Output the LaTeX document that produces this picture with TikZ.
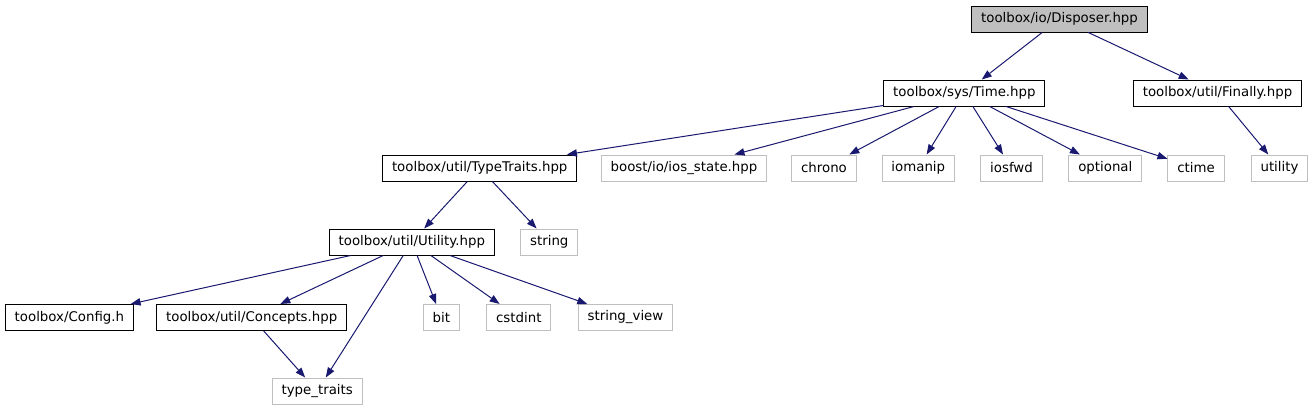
\documentclass[tikz,border=0pt]{standalone}
\usepackage{fontspec}
\setmainfont{DejaVu Sans}
\usetikzlibrary{arrows.meta}
\definecolor{edgeblue}{HTML}{191970}
\definecolor{extgray}{HTML}{BFBFBF}

\begin{document}
\begin{tikzpicture}[x=0.75pt, y=-0.75pt,
    file/.style={draw=black, line width=0.75pt, inner xsep=7pt, inner ysep=0pt,
        minimum height=19.5pt, font=\fontsize{10}{12}\selectfont},
    ext/.style={file, draw=extgray},
    dep/.style={edgeblue, line width=0.75pt, -{Triangle[length=7.5pt, width=5.5pt]}}]
    \useasboundingbox (0,0) rectangle (1315,411);
    % Below nodes are the header files.
        \node[file, fill=extgray] (disp) at (1059.5,19) {toolbox/io/Disposer.hpp};
        \node[file] (time) at (964.4,93) {toolbox/sys/Time.hpp};
        \node[file] (fin) at (1217.5,93) {toolbox/util/Finally.hpp};
        \node[file] (tt) at (479.7,168) {toolbox/util/TypeTraits.hpp};
        \node[ext] (boost) at (684,168) {boost/io/ios\_state.hpp};
        \node[ext] (chrono) at (824,168) {chrono};
        \node[ext] (iomanip) at (918.3,168) {iomanip};
        \node[ext] (iosfwd) at (1011.5,168) {iosfwd};
        \node[ext] (optional) at (1105.3,168) {optional};
        \node[ext] (ctime) at (1196,168) {ctime};
        \node[ext] (utility) at (1279.5,168) {utility};
        \node[file] (util) at (411.8,242) {toolbox/util/Utility.hpp};
        \node[ext] (string) at (549.3,242) {string};
        \node[file] (config) at (69.4,317.5) {toolbox/Config.h};
        \node[file] (concepts) at (251.7,317.5) {toolbox/util/Concepts.hpp};
        \node[ext] (bit) at (441.4,317.5) {bit};
        \node[ext] (cstdint) at (518.8,317.5) {cstdint};
        \node[ext] (sview) at (625.5,317.5) {string\_view};
        \node[ext] (typetr) at (317.2,391) {type\_traits};
    % This draws the include edges.
        \draw[dep] (disp) -- (time);
        \draw[dep] (disp) -- (fin);
        \foreach \t in {tt, boost, chrono, iomanip, iosfwd, optional, ctime}
            \draw[dep] (time) -- (\t);
        \draw[dep] (fin) -- (utility);
        \draw[dep] (tt) -- (util);
        \draw[dep] (tt) -- (string);
        \foreach \t in {config, concepts, typetr, bit, cstdint, sview}
            \draw[dep] (util) -- (\t);
        \draw[dep] (concepts) -- (typetr);
\end{tikzpicture}
\end{document}
